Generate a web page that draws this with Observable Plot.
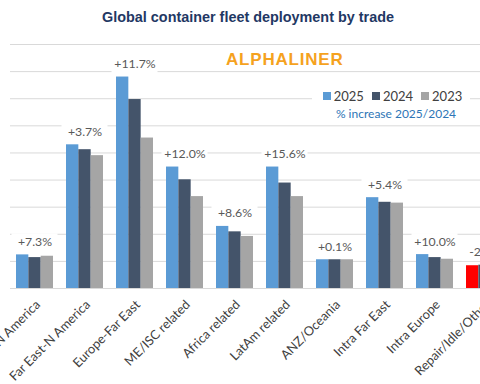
<!DOCTYPE html>
<html>
<head>
<meta charset="utf-8">
<script src="https://cdn.jsdelivr.net/npm/d3@7"></script>
<script src="https://cdn.jsdelivr.net/npm/@observablehq/plot@0.6"></script>
<style>
  html, body { margin: 0; padding: 0; background: #fff; overflow: hidden; }
  #wrap { position: relative; width: 480px; height: 384px; overflow: hidden; background: #fff; }
  #title { position: absolute; left: 0; top: 9px; width: 480px; padding-left: 16px; box-sizing: border-box;
    text-align: center; font-family: "Liberation Sans", Arial, sans-serif; font-weight: bold; font-size: 14.4px; color: #1F3864; }
  #chart { position: absolute; left: 0; top: 36px; }
  #logo { position: absolute; left: 226px; top: 51px; font-family: "Liberation Sans", Arial, sans-serif; font-weight: bold;
    font-size: 17px; line-height: 17px; letter-spacing: 0.8px; color: #F5A21E; }
  #legend { position: absolute; left: 312px; top: 87px; width: 158px; height: 33px; background: #fff;
    font-family: Lato, "Open Sans", sans-serif; }
  #legend .row { display: flex; align-items: center; justify-content: center; font-size: 13px; color: #404040; height: 18px; margin-left: 3px; }
  #legend .item { display: flex; align-items: center; margin-right: 8px; }
  #legend .item:last-child { margin-right: 0; }
  #legend .sw { width: 8px; height: 8px; margin-right: 3px; }
  #legend .note { text-align: center; font-size: 12px; color: #2E75B6; margin-top: 1px; margin-left: 10px; }
</style>
</head>
<body>
<div id="wrap">
  <div id="title"></div>
  <div id="chart"></div>
  <div id="logo"></div>
  <div id="legend"></div>
</div>
<script>
const titleText = "Global container fleet deployment by trade";
const logoText = "ALPHALINER";
const noteText = "% increase 2025/2024";
const trades = ["Europe-N America", "Far East-N America", "Europe-Far East", "ME/ISC related", "Africa related",
  "LatAm related", "ANZ/Oceania", "Intra Far East", "Intra Europe", "Repair/Idle/Other"];
const years = ["2025", "2024", "2023"];
const v2025 = [1.24, 5.30, 7.80, 4.48, 2.29, 4.48, 1.06, 3.35, 1.25, 0.84];
const v2024 = [1.14, 5.12, 6.97, 4.01, 2.09, 3.89, 1.06, 3.18, 1.14, 0.86];
const v2023 = [1.19, 4.90, 5.55, 3.39, 1.92, 3.39, 1.06, 3.15, 1.08, 0.88];
const pctChange = ["+7.3%", "+3.7%", "+11.7%", "+12.0%", "+8.6%", "+15.6%", "+0.1%", "+5.4%", "+10.0%", "-2.0%"];
const gridTicks = [0, 1, 2, 3, 4, 5, 6, 7, 8, 9];
const colors = {"2025": "#5B9BD5", "2024": "#44546A", "2023": "#A5A5A5"};
const highlightTrade = "Repair/Idle/Other";
const highlightColor = "#FF0000";

const rows = trades.map((t, i) => ({trade: t, v2025: v2025[i], v2024: v2024[i], v2023: v2023[i],
  max: Math.max(v2025[i], v2024[i], v2023[i]), pct: pctChange[i]}));

document.getElementById("title").textContent = titleText;
document.getElementById("logo").textContent = logoText;
const leg = document.getElementById("legend");
const row = document.createElement("div"); row.className = "row";
years.forEach(y => {
  const it = document.createElement("div"); it.className = "item";
  const sw = document.createElement("div"); sw.className = "sw"; sw.style.background = colors[y];
  const tx = document.createElement("span"); tx.textContent = y;
  it.appendChild(sw); it.appendChild(tx); row.appendChild(it);
});
leg.appendChild(row);
const note = document.createElement("div"); note.className = "note"; note.textContent = noteText;
leg.appendChild(note);

const w = 37 / 3;
const chart = Plot.plot({
  width: 480,
  height: 348,
  marginTop: 8,
  marginBottom: 96,
  marginLeft: 10,
  marginRight: 0,
  style: {fontFamily: "Lato, 'Open Sans', sans-serif", fontSize: "12px", color: "#404040", background: "transparent"},
  x: {type: "band", domain: trades, range: [3, 516], padding: 0.26, round: false, axis: null},
  y: {domain: [0, 9], axis: null},
  marks: [
    Plot.ruleY(gridTicks, {stroke: "#D9D9D9", strokeWidth: 1}),
    Plot.barY(rows, {x: "trade", y1: "max", y2: "max", fill: "white",
      insetTop: -21, insetBottom: 3, insetLeft: -4.5, insetRight: -4.5}),
    Plot.barY(rows, {x: "trade", y: "v2025", fill: d => d.trade === highlightTrade ? highlightColor : colors["2025"],
      insetLeft: 0, insetRight: 2 * w}),
    Plot.barY(rows, {x: "trade", y: "v2024", fill: colors["2024"], insetLeft: w, insetRight: w}),
    Plot.barY(rows, {x: "trade", y: "v2023", fill: colors["2023"], insetLeft: 2 * w, insetRight: 0}),
    Plot.text(rows, {x: "trade", y: "max", text: "pct", dy: -13, fill: "#595959", fontSize: 12.3}),
    Plot.text(trades, {x: d => d, frameAnchor: "bottom", text: d => d, rotate: -45, textAnchor: "end",
      lineAnchor: "middle", dx: 3, dy: 14, fill: "#404040", fontSize: 12.8})
  ]
});
document.getElementById("chart").appendChild(chart);
</script>
</body>
</html>
